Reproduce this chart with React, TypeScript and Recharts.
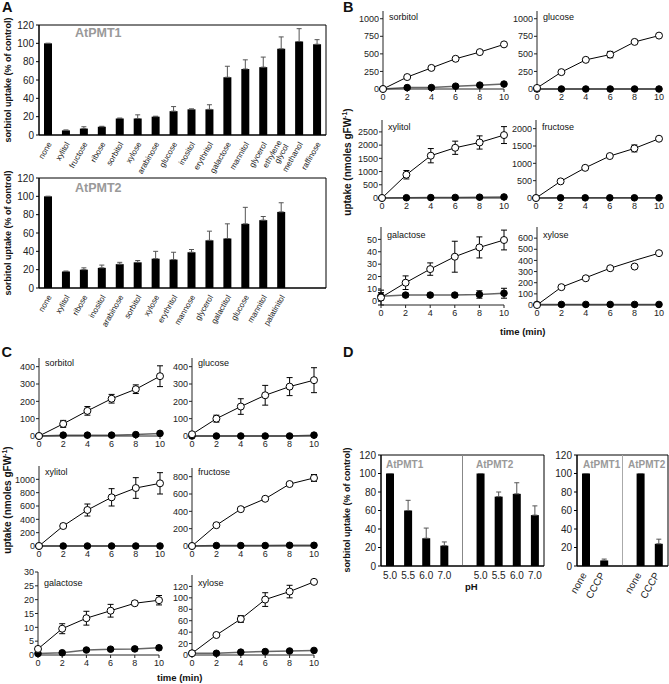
import React from 'react';
import { BarChart, Bar, LineChart, Line, XAxis, YAxis, ErrorBar, ReferenceArea, ReferenceLine } from 'recharts';

const FONT = '"Liberation Sans", Arial, sans-serif';

// panel A: sorbitol uptake with competitors (% of control)
const sugarsA1 = ['none', 'xylitol', 'fructose', 'ribose', 'sorbitol', 'xylose', 'arabinose', 'glucose', 'inositol', 'erythritol', 'galactose', 'mannitol', 'glycerol', 'ethylene glycol', 'methanol', 'raffinose'];
const uptakeA1 = [100, 5, 7, 9, 18, 18, 20, 26, 28, 28, 63, 72, 74, 94, 102, 99];
const errA1 = [0, 0.5, 2, 0.5, 0.5, 4, 0.5, 5, 0.5, 5, 12, 10, 11, 13, 14, 5];
const sugarsA2 = ['none', 'xylitol', 'ribose', 'inositol', 'arabinose', 'sorbitol', 'xylose', 'erythritol', 'mannose', 'glycerol', 'galactitol', 'glucose', 'mannitol', 'palatinitol'];
const uptakeA2 = [100, 18, 20, 22, 26, 28, 32, 31, 39, 52, 54, 70, 74, 83];
const errA2 = [0, 0.5, 2, 3, 2, 2, 8, 8, 3, 10, 16, 18, 4, 10];
const pctTicks = [0, 20, 40, 60, 80, 100, 120];

// panels B and C: time courses (nmoles gFW-1)
const tMin = [0, 2, 4, 6, 8, 10];

const bSorbitolOpen = [0, 170, 300, 430, 525, 635];
const bSorbitolOpenErr = [0, 10, 10, 10, 15, 15];
const bSorbitolClosed = [0, 20, 20, 40, 55, 70];
const bGlucoseOpen = [15, 240, 415, 490, 670, 760];
const bGlucoseOpenErr = [10, 15, 15, 45, 15, 25];
const bGlucoseClosed = [0, 0, 0, 0, 0, 0];
const bXylitolOpen = [0, 880, 1600, 1900, 2100, 2380];
const bXylitolOpenErr = [0, 160, 270, 250, 250, 320];
const bXylitolClosed = [0, 10, 15, 20, 30, 40];
const bFructoseOpen = [0, 480, 870, 1210, 1430, 1710];
const bFructoseOpenErr = [0, 30, 30, 30, 100, 50];
const bFructoseClosed = [0, 5, 5, 5, 5, 5];
const bGalactoseOpen = [3, 15, 26, 36, 43.5, 49.5];
const bGalactoseOpenErr = [6, 5.5, 5, 12.5, 8.5, 8];
const bGalactoseClosed = [4, 5, 5, 5, 5.5, 6.5];
const bGalactoseClosedErr = [3, 1.5, 1.5, 1.5, 3, 4];
const bXyloseOpen = [0, 160, 240, 330, 345, 465];
const bXyloseFit = [0, 160, 245, 330, 400, 465];
const bXyloseOpenErr = [0, 10, 10, 10, 10, 15];
const bXyloseClosed = [5, 5, 5, 5, 5, 5];

const cSorbitolOpen = [0, 70, 145, 215, 270, 345];
const cSorbitolOpenErr = [0, 20, 25, 25, 25, 60];
const cSorbitolClosed = [0, 5, 5, 5, 8, 15];
const cGlucoseOpen = [10, 100, 170, 235, 285, 322];
const cGlucoseOpenErr = [5, 20, 45, 57, 52, 72];
const cGlucoseClosed = [0, 0, 0, 0, 0, 5];
const cXylitolOpen = [0, 300, 540, 730, 870, 940];
const cXylitolOpenErr = [0, 30, 90, 130, 155, 160];
const cXylitolClosed = [0, 0, 0, 0, 0, 0];
const cFructoseOpen = [0, 240, 425, 545, 715, 785];
const cFructoseOpenErr = [0, 10, 10, 10, 10, 40];
const cFructoseClosed = [0, 5, 5, 5, 8, 8];
const cGalactoseOpen = [2.2, 9.5, 13.3, 16, 18.7, 19.8];
const cGalactoseOpenErr = [0.8, 1.8, 2.5, 2.3, 0.8, 1.7];
const cGalactoseClosed = [0.5, 0.8, 1.8, 2.1, 2.2, 2.6];
const cGalactoseClosedErr = [0.3, 0.3, 0.3, 0.3, 0.6, 0.7];
const cXyloseOpen = [3, 35, 63, 97, 111, 128];
const cXyloseOpenErr = [1, 2, 6, 12, 11, 3];
const cXyloseClosed = [3, 3, 5, 6, 7, 8];

const noErr = [0, 0, 0, 0, 0, 0];

// panel D: pH and CCCP
const phLabels = ['5.0', '5.5', '6.0', '7.0'];
const phPMT1 = [100, 60, 30, 22];
const phErrPMT1 = [0, 11, 11, 4];
const phPMT2 = [100, 75, 78, 55];
const phErrPMT2 = [0, 5, 12, 10];
const cccpLabels = ['none', 'CCCP'];
const cccpPMT1 = [100, 6];
const cccpErrPMT1 = [0, 1.5];
const cccpPMT2 = [100, 24];
const cccpErrPMT2 = [0, 5];

type Row = { key: string; label: string; v: number; e: number[] };

const toRows = (names: string[], vals: number[], errs: number[], prefix = '') =>
  names.map((n, i) => ({ key: prefix + n, label: n, v: vals[i], e: [0, errs[i]] }));
const gapRow = (key: string): Row => ({ key, label: '', v: 0, e: [0, 0] });

const rowsA1: Row[] = toRows(sugarsA1, uptakeA1, errA1);
const rowsA2: Row[] = [...toRows(sugarsA2, uptakeA2, errA2), gapRow('pad1'), gapRow('pad2')];
const rowsPh: Row[] = [...toRows(phLabels, phPMT1, phErrPMT1, 'a'), gapRow('gap'), ...toRows(phLabels, phPMT2, phErrPMT2, 'b')];
const rowsCccp: Row[] = [...toRows(cccpLabels, cccpPMT1, cccpErrPMT1, 'a'), gapRow('gap'), ...toRows(cccpLabels, cccpPMT2, cccpErrPMT2, 'b')];

const labelMap = (rows: Row[]) => Object.fromEntries(rows.map(r => [r.key, r.label]));

const slantTick = (rows: Row[], size: number, ox: number, oy: number) => {
  const labels = labelMap(rows);
  return (p: any) => {
    const parts = (labels[p.payload.value] || '').split(' ');
    return (
      <g transform={`translate(${p.x + ox},${p.y + oy}) rotate(-60)`}>
        <text textAnchor="end" fontSize={size} fill="#222">
          {parts.map((w, i) => (
            <tspan key={i} x={0} dy={i === 0 ? (parts.length > 1 ? -size * 0.45 : 0) : size}>{w}</tspan>
          ))}
        </text>
      </g>
    );
  };
};

const flatTick = (rows: Row[]) => {
  const labels = labelMap(rows);
  return (p: any) => (
    <text x={p.x} y={p.y + 5.5} dy="0.71em" textAnchor="middle" fontSize={10} fill="#222">{labels[p.payload.value]}</text>
  );
};

const Txt = ({ x, cy, size = 9, bold = false, color = '#111', children }: any) => (
  <div style={{ position: 'absolute', left: x, top: cy - size / 2, fontSize: size, lineHeight: `${size}px`, fontWeight: bold ? 'bold' : 'normal', color, whiteSpace: 'nowrap' }}>
    {children}
  </div>
);

const VLabel = ({ cx, cy, size = 9, children }: any) => (
  <div style={{ position: 'absolute', left: cx, top: cy, transform: 'translate(-50%, -50%) rotate(-90deg)', fontSize: size, fontWeight: 'bold', whiteSpace: 'nowrap', lineHeight: 1 }}>
    {children}
  </div>
);

function BarPanel({ rows, x0, x1, y0, y1, xh, tick, dividers = [], dividerColor = '#999' }: any) {
  const yw = 30, mt = 8, mr = 2;
  return (
    <div style={{ position: 'absolute', left: x0 - yw, top: y0 - mt }}>
      <BarChart width={yw + x1 - x0 + mr} height={mt + y1 - y0 + xh} data={rows} margin={{ top: mt, right: mr, left: 0, bottom: 0 }}>
        <XAxis dataKey="key" interval={0} height={xh} tickLine={false} tickSize={0} tickMargin={0} tick={tick} stroke="#000" />
        <YAxis type="number" domain={[0, 120]} ticks={pctTicks} interval={0} width={yw} tickSize={3} tickMargin={2} tick={{ fontSize: 10, fill: '#222' }} stroke="#000" />
        <ReferenceArea y1={0} y2={120} fill="none" stroke="#000" strokeWidth={1} />
        {dividers.map((d: string) => <ReferenceLine key={d} x={d} stroke={dividerColor} strokeWidth={1} />)}
        <Bar dataKey="v" fill="#000" barSize={8} isAnimationActive={false}>
          <ErrorBar dataKey="e" width={2.5} stroke="#555" strokeWidth={1} />
        </Bar>
      </BarChart>
    </div>
  );
}

type Course = { name: string; open: number[]; openErr: number[]; closed: number[]; closedErr: number[]; fit?: number[]; top: number; ticks: number[]; titleY: number };

function Kinetic({ s, x0, x1, y0, y1 }: { s: Course; x0: number; x1: number; y0: number; y1: number }) {
  const yw = 32, mt = 4, mr = 8, xh = 16;
  const rows = tMin.map((t, i) => ({ t, o: s.open[i], oe: s.openErr[i], c: s.closed[i], ce: s.closedErr[i], fit: s.fit ? s.fit[i] : undefined }));
  return (
    <>
      <div style={{ position: 'absolute', left: x0 - yw, top: y0 - mt }}>
        <LineChart width={yw + x1 - x0 + mr} height={mt + y1 - y0 + xh} data={rows} margin={{ top: mt, right: mr, left: 0, bottom: 0 }}>
          <XAxis dataKey="t" type="number" domain={[0, 10]} ticks={tMin} interval={0} height={xh} tickSize={3} tickMargin={2} tick={{ fontSize: 9, fill: '#222' }} stroke="#222" />
          <YAxis type="number" domain={[0, s.top]} ticks={s.ticks} interval={0} width={yw} tickSize={3} tickMargin={1} tick={{ fontSize: 9, fill: '#222' }} stroke="#222" />
          <Line dataKey="c" stroke="#666" strokeWidth={1.5} dot={{ r: 3.3, fill: '#000', stroke: '#000', strokeWidth: 1 }} isAnimationActive={false}>
            <ErrorBar dataKey="ce" width={3} stroke="#000" strokeWidth={1} />
          </Line>
          {s.fit && <Line dataKey="fit" stroke="#000" strokeWidth={1} dot={false} isAnimationActive={false} />}
          <Line dataKey="o" stroke={s.fit ? 'none' : '#000'} strokeWidth={1} dot={{ r: 3.5, fill: '#fff', stroke: '#000', strokeWidth: 1 }} isAnimationActive={false}>
            <ErrorBar dataKey="oe" width={3} stroke="#000" strokeWidth={1} />
          </Line>
        </LineChart>
      </div>
      <Txt x={x0 + 6} cy={s.titleY} size={9}>{s.name}</Txt>
    </>
  );
}

const bTop = [0, 250, 500, 750, 1000];
const courseB: Record<string, Course> = {
  sorbitol: { name: 'sorbitol', open: bSorbitolOpen, openErr: bSorbitolOpenErr, closed: bSorbitolClosed, closedErr: noErr, top: 1110, ticks: bTop, titleY: 17 },
  glucose: { name: 'glucose', open: bGlucoseOpen, openErr: bGlucoseOpenErr, closed: bGlucoseClosed, closedErr: noErr, top: 1110, ticks: bTop, titleY: 17 },
  xylitol: { name: 'xylitol', open: bXylitolOpen, openErr: bXylitolOpenErr, closed: bXylitolClosed, closedErr: noErr, top: 2950, ticks: [0, 500, 1000, 1500, 2000, 2500], titleY: 127 },
  fructose: { name: 'fructose', open: bFructoseOpen, openErr: bFructoseOpenErr, closed: bFructoseClosed, closedErr: noErr, top: 2250, ticks: [0, 500, 1000, 1500, 2000], titleY: 127 },
  galactose: { name: 'galactose', open: bGalactoseOpen, openErr: bGalactoseOpenErr, closed: bGalactoseClosed, closedErr: bGalactoseClosedErr, top: 60, ticks: [0, 10, 20, 30, 40, 50], titleY: 235 },
  xylose: { name: 'xylose', open: bXyloseOpen, openErr: bXyloseOpenErr, closed: bXyloseClosed, closedErr: noErr, fit: bXyloseFit, top: 700, ticks: [0, 100, 200, 300, 400, 500, 600], titleY: 235 },
};
const courseC: Record<string, Course> = {
  sorbitol: { name: 'sorbitol', open: cSorbitolOpen, openErr: cSorbitolOpenErr, closed: cSorbitolClosed, closedErr: noErr, top: 450, ticks: [0, 100, 200, 300, 400], titleY: 363 },
  glucose: { name: 'glucose', open: cGlucoseOpen, openErr: cGlucoseOpenErr, closed: cGlucoseClosed, closedErr: noErr, top: 450, ticks: [0, 100, 200, 300, 400], titleY: 363 },
  xylitol: { name: 'xylitol', open: cXylitolOpen, openErr: cXylitolOpenErr, closed: cXylitolClosed, closedErr: noErr, top: 1200, ticks: [0, 200, 400, 600, 800, 1000], titleY: 472 },
  fructose: { name: 'fructose', open: cFructoseOpen, openErr: cFructoseOpenErr, closed: cFructoseClosed, closedErr: noErr, top: 900, ticks: [0, 200, 400, 600, 800], titleY: 472 },
  galactose: { name: 'galactose', open: cGalactoseOpen, openErr: cGalactoseOpenErr, closed: cGalactoseClosed, closedErr: cGalactoseClosedErr, top: 30, ticks: [0, 5, 10, 15, 20, 25, 30], titleY: 583 },
  xylose: { name: 'xylose', open: cXyloseOpen, openErr: cXyloseOpenErr, closed: cXyloseClosed, closedErr: noErr, top: 140, ticks: [0, 20, 40, 60, 80, 100, 120], titleY: 583 },
};

const uptakeLabel = <>uptake (nmoles gFW<sup style={{ fontSize: 7 }}>-1</sup>)</>;

export default function App() {
  return (
    <div style={{ position: 'absolute', left: 0, top: 0, width: 669, height: 684, background: '#fff', fontFamily: FONT, color: '#111', overflow: 'hidden' }}>
      {/* A */}
      <Txt x={2} cy={7} size={14.5} bold>A</Txt>
      <BarPanel rows={rowsA1} x0={39} x1={326} y0={25} y1={135} xh={40} tick={slantTick(rowsA1, 8, 4, 9)} />
      <BarPanel rows={rowsA2} x0={39} x1={326} y0={178} y1={288} xh={40} tick={slantTick(rowsA2, 8, 4, 9)} />
      <Txt x={75} cy={33.5} size={12.5} bold color="#999">AtPMT1</Txt>
      <Txt x={75} cy={188} size={12.5} bold color="#999">AtPMT2</Txt>
      <VLabel cx={8} cy={80} size={9}>sorbitol uptake (% of control)</VLabel>
      <VLabel cx={8} cy={233} size={9}>sorbitol uptake (% of control)</VLabel>

      {/* B */}
      <Txt x={343} cy={7} size={14.5} bold>B</Txt>
      <Kinetic s={courseB.sorbitol} x0={383} x1={504} y0={11} y1={89} />
      <Kinetic s={courseB.glucose} x0={537} x1={659} y0={11} y1={89} />
      <Kinetic s={courseB.xylitol} x0={382} x1={504} y0={120} y1={198} />
      <Kinetic s={courseB.fructose} x0={536} x1={659} y0={120} y1={198} />
      <Kinetic s={courseB.galactose} x0={381} x1={504} y0={227} y1={305} />
      <Kinetic s={courseB.xylose} x0={537} x1={659} y0={227} y1={305} />
      <VLabel cx={347} cy={162} size={10}>{uptakeLabel}</VLabel>
      <Txt x={500} cy={332} size={9.5} bold>time (min)</Txt>

      {/* C */}
      <Txt x={1.5} cy={352} size={14.5} bold>C</Txt>
      <Kinetic s={courseC.sorbitol} x0={39} x1={160} y0={358} y1={436} />
      <Kinetic s={courseC.glucose} x0={192} x1={314} y0={358} y1={436} />
      <Kinetic s={courseC.xylitol} x0={39} x1={160} y0={466} y1={546} />
      <Kinetic s={courseC.fructose} x0={192} x1={314} y0={468} y1={546} />
      <Kinetic s={courseC.galactose} x0={38} x1={159} y0={572} y1={655} />
      <Kinetic s={courseC.xylose} x0={192} x1={314} y0={575} y1={655} />
      <VLabel cx={7} cy={500} size={10}>{uptakeLabel}</VLabel>
      <Txt x={157} cy={678} size={9.5} bold>time (min)</Txt>

      {/* D */}
      <Txt x={343} cy={352} size={14.5} bold>D</Txt>
      <BarPanel rows={rowsPh} x0={381} x1={544} y0={455} y1={566} xh={30} tick={flatTick(rowsPh)} dividers={['gap']} dividerColor="#888" />
      <BarPanel rows={rowsCccp} x0={577} x1={668} y0={455} y1={566} xh={48} tick={slantTick(rowsCccp, 10, 1, 9)} dividers={['gap']} dividerColor="#aaa" />
      <Txt x={386} cy={465} size={10} bold color="#999">AtPMT1</Txt>
      <Txt x={476} cy={465} size={10} bold color="#999">AtPMT2</Txt>
      <Txt x={583} cy={465} size={10} bold color="#999">AtPMT1</Txt>
      <Txt x={628} cy={465} size={10} bold color="#999">AtPMT2</Txt>
      <Txt x={465} cy={587} size={9.5} bold>pH</Txt>
      <VLabel cx={347} cy={510} size={9}>sorbitol uptake (% of control)</VLabel>
    </div>
  );
}
